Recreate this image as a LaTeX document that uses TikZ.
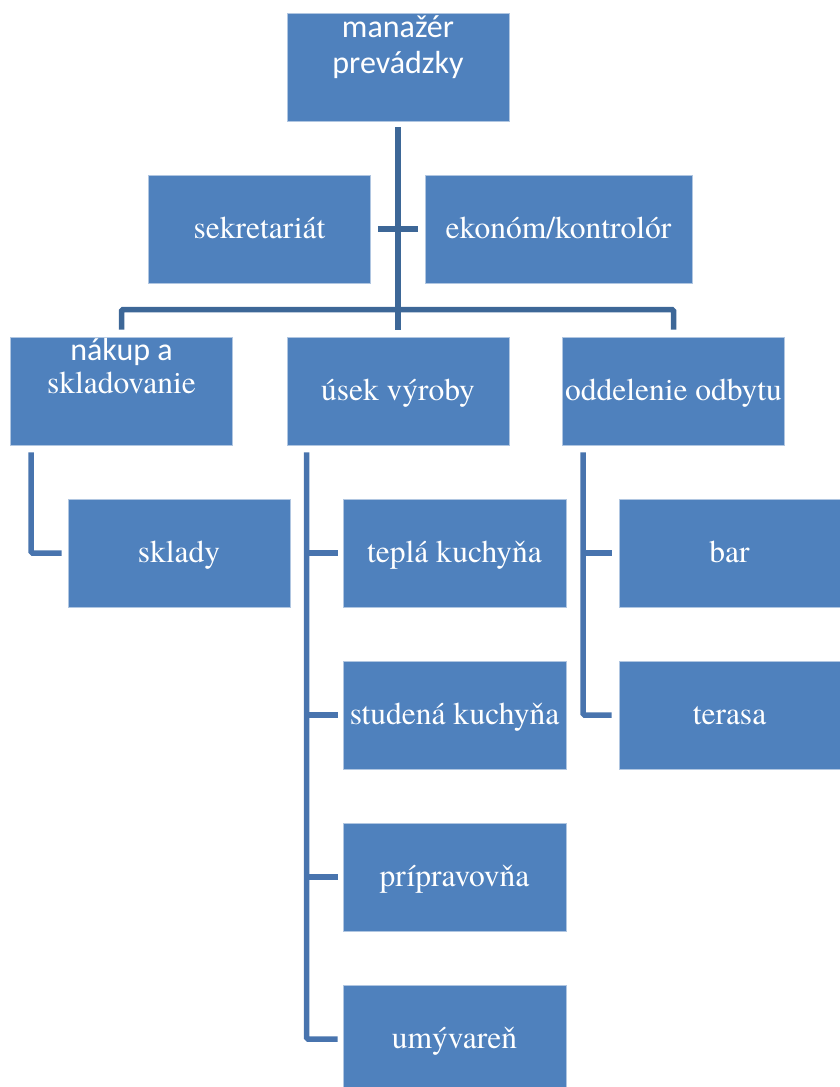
\documentclass[tikz,border=0pt]{standalone}
\usepackage{fontspec}
\newfontfamily\timesfont{TeX Gyre Termes}
\newfontfamily\calfont{Carlito}
\definecolor{boxblue}{HTML}{4F81BD}
\definecolor{trunkblue}{HTML}{3D6797}
\definecolor{branchblue}{HTML}{4874AE}
\begin{document}
\begin{tikzpicture}[x=1pt, y=-1pt,
  box/.style={rectangle, fill=boxblue, draw=white!55!boxblue, line width=0.8pt,
    minimum width=222pt, minimum height=108pt, inner sep=0pt, text=white,
    font=\timesfont\fontsize{31.5}{36}\selectfont, text height=25pt, text depth=7pt},
  txt/.style={text=white, inner sep=0pt},
  trunk/.style={draw=trunkblue, line width=5.5pt, rounded corners=1.5pt},
  branch/.style={draw=branchblue, line width=5.5pt, rounded corners=1.5pt}]
\useasboundingbox (0,0) rectangle (840,1087);
% top
\node [box] (mgr) at (398,67) {};
\node [txt, anchor=base, font=\calfont\fontsize{32}{36}\selectfont] (mgrA) at (398,37) {manažér};
\node [txt, anchor=base, font=\calfont\fontsize{32}{36}\selectfont] (mgrB) at (398,73) {prevádzky};
% staff
\node [box] (sek) at (259.5,229) {sekretariát};
\node [box, minimum width=267pt] (eko) at (558.5,229) {ekonóm/kontrolór};
% departments
\node [box] (nak) at (121.5,391) {};
\node [txt, anchor=base, font=\calfont\fontsize{32}{36}\selectfont] (nakA) at (121.5,360) {nákup a};
\node [txt, anchor=base, font=\timesfont\fontsize{31.5}{36}\selectfont] (nakB) at (121.5,393) {skladovanie};
\node [box] (usek) at (398,391) {úsek výroby};
\node [box] (odb) at (673.5,391) {oddelenie odbytu};
% units
\node [box] (skl) at (179,553) {sklady};
\node [box, minimum width=223pt] (tep) at (454.5,553) {teplá kuchyňa};
\node [box, minimum width=223pt] (stu) at (454.5,715) {studená kuchyňa};
\node [box, minimum width=223pt] (pri) at (454.5,877) {prípravovňa};
\node [box, minimum width=223pt] (umy) at (454.5,1039) {umývareň};
\node [box, minimum width=221pt] (bar) at (729.5,553) {bar};
\node [box, minimum width=221pt] (ter) at (729.5,715) {terasa};
% connectors
\draw [trunk, shorten <=6pt, shorten >=7pt] (mgr) -- (usek);
\draw [trunk] ([xshift=7pt]sek.east) -- ([xshift=-7pt]eko.west);
\draw [trunk] ([yshift=7pt]nak.north) -- ([yshift=27pt]nak.north)
  -- ([yshift=27pt]odb.north) -- ([yshift=7pt]odb.north);
\coordinate (spineN) at ([shift={(21pt,-7pt)}]nak.south west);
\coordinate (spineU) at ([shift={(20pt,-7pt)}]usek.south west);
\coordinate (spineO) at ([shift={(21pt,-7pt)}]odb.south west);
\draw [branch] (spineN) |- ([xshift=-6pt]skl.west);
\draw [branch] (spineU) |- ([xshift=-5pt]umy.west);
\foreach \n in {tep,stu,pri}
  \draw [branch] (spineU |- \n.west) -- ([xshift=-5pt]\n.west);
\draw [branch] (spineO) |- ([xshift=-7pt]ter.west);
\draw [branch] (spineO |- bar.west) -- ([xshift=-7pt]bar.west);
\end{tikzpicture}
\end{document}
